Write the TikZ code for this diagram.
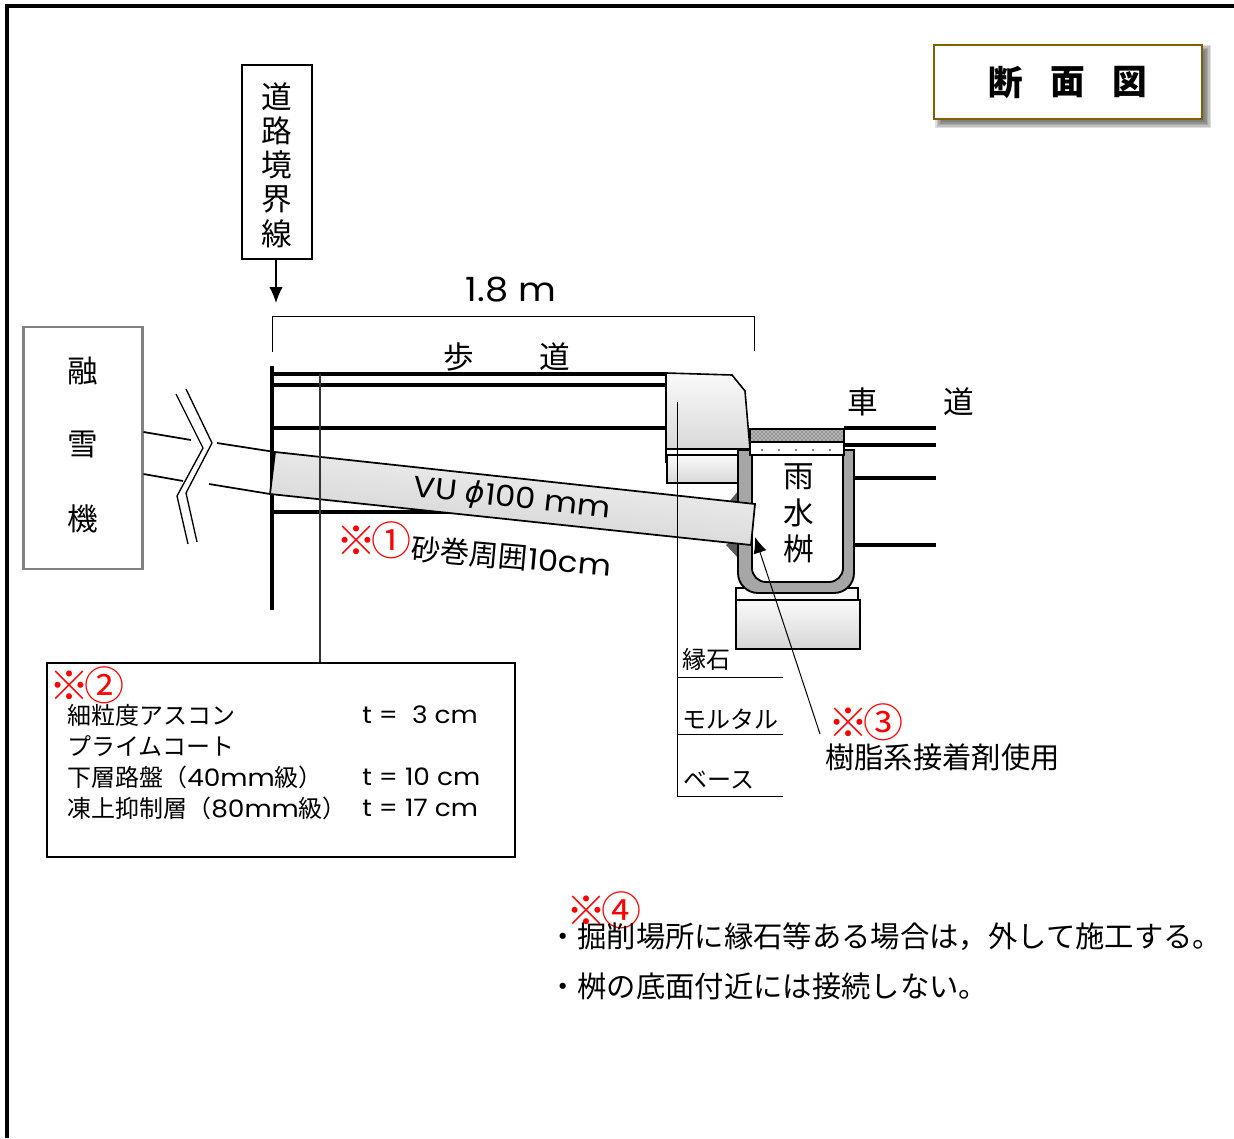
\documentclass[tikz,border=0pt]{standalone}
\usepackage{fontspec}
\setmainfont{Noto Sans CJK JP}
\newfontfamily\wide[FakeStretch=1.1]{Poppins}
\newfontfamily\greek{DejaVu Sans}
\usetikzlibrary{shadows,positioning,arrows.meta,calc,patterns}
\definecolor{framegold}{RGB}{127,96,0}
\newcommand{\redmarktext}[1]{{\bfseries ※}\kern-3.5pt #1}
\tikzset{
    txt/.style={inner sep=0pt,font=\fontsize{#1}{#1}\selectfont},
    widetxt/.style={inner sep=0pt,font=\wide\fontsize{#1}{#1}\selectfont},
    courseline/.style={line width=3pt},
    pipeline/.style={line width=1.3pt},
    redmark/.style={inner sep=0pt,text=red,font=\fontsize{30}{30}\selectfont},
    leader/.style={line width=0.75pt},
    blockbox/.style={draw=black,line width=1.2pt,top color=gray!4,bottom color=gray!32},
    tiparrow/.style={-{Latex[length=12pt,width=10pt]}}
}
\begin{document}
\begin{tikzpicture}[x=0.75pt,y=-0.75pt]
    \useasboundingbox (0,0) rectangle (1234,1138);
    % outer frame
    \draw[line width=2.4pt] (7,1138) -- (7,6) -- (1234,6);

    % title
    \foreach \e in {4,2.5,1,-0.5,-2}
        \fill[black,opacity=0.13] ({939-\e},{49-\e}) rectangle ({1207+\e},{124+\e});
    \node[draw=framegold,line width=1.7pt,fill=white,minimum width=201pt,minimum height=56pt,inner sep=0pt] (title) at (1068,82) {};
    \node[txt=26] (title1) at (1006,82) {\bfseries 断};
    \node[txt=26] (title2) at (1068,82) {\bfseries 面};
    \node[txt=26] (title3) at (1130,82) {\bfseries 図};

    % boundary label
    \node[draw,line width=1pt,minimum width=52.5pt,minimum height=145.5pt,inner sep=0pt] (boundary) at (277,162) {};
    \foreach \y/\t in {97/道,131/路,165/境,199/界,234/線}
        \node[txt=23] at (277,\y) {\t};
    \coordinate (boundarytip) at (276,303);
    \draw[line width=0.9pt,tiparrow] (boundary.south -| boundarytip) -- (boundarytip);

    % width dimension
    \node[widetxt=25] (width) at (511,290) {1.8 m};
    \draw[leader] (272,352) -- (272,316) -- (754,316) -- (754,351);

    % snow melter
    \node[draw=gray,line width=1.8pt,minimum width=89pt,minimum height=181.5pt,inner sep=0pt] (melter) at (83,448) {};
    \foreach \y/\t in {371/融,445/雪,519/機}
        \node[txt=23] at (83,\y) {\t};

    % road layers, sidewalk side
    \draw[line width=2.6pt] (272,366) -- (272,610);
    \foreach \y in {374,385,428,512}
        \draw[courseline] (272,\y) -- (668,\y);
    \node[txt=23] (walk1) at (459,357) {歩};
    \node[txt=23] (walk2) at (555,357) {道};

    % road layers, roadway side
    \foreach \y/\s in {428/844,445/844,478/855,545/855}
        \draw[courseline] (\s,\y) -- (936,\y);
    \node[txt=23] (road1) at (863,402) {車};
    \node[txt=23] (road2) at (959,402) {道};

    % curb and base
    \draw[line width=1.2pt,top color=gray!4,bottom color=gray!30]
        (666,373) -- (732,375) -- (745,391) -- (750,449) -- (666,449) -- cycle;
    \draw[line width=1.2pt,top color=gray!4,bottom color=gray!30] (667,455) rectangle (740,483);
    \draw[line width=1.4pt] (666,449) -- (666,463);
    \draw[line width=1.2pt] (666,455) -- (740,455);

    % adhesive behind the catch basin
    \fill[black!65] (739,490) -- (728,503) -- (739,510) -- cycle;
    \fill[black!65] (739,535) -- (726,545) -- (739,559) -- cycle;

    % foundation
    \draw[line width=1.2pt,fill=gray!5] (736,588) rectangle (858,600);
    \draw[blockbox] (736,600) rectangle (860,649);

    % catch basin
    \draw[line width=1.4pt,fill=black!35]
        (738,450) -- (854,450) -- (854,573) arc (0:90:20) -- (758,593) arc (90:180:20) -- cycle;
    \draw[line width=1.4pt,fill=white]
        (752,450) -- (843,450) -- (843,568) arc (0:90:14) -- (766,582) arc (90:180:14) -- cycle;

    % basin cover
    \draw[line width=1.6pt,fill=white] (750,429) rectangle (844,455);
    \fill[black!30] (751,430) rectangle (843,442);
    \fill[pattern=crosshatch dots,pattern color=black!75] (751,430) rectangle (843,442);
    \foreach \x in {762,779,796,813,830}
        \fill (\x,450) circle (0.9);
    \draw[line width=1.6pt] (750,442) -- (844,442);
    \node[txt=23] (basin1) at (799,477) {雨};
    \node[txt=23] (basin2) at (799,513) {水};
    \node[txt=23] (basin3) at (799,549) {桝};

    % pipe
    \draw[pipeline] (melter.east |- 0,432) -- (191,440);
    \draw[pipeline] (melter.east |- 0,474) -- (183,481);
    \draw[pipeline] (217,443) -- (275,452);
    \draw[pipeline] (209,484) -- (270,494);
    \draw[pipeline,top color=gray!8,bottom color=gray!38,shading angle=-6.4]
        (275,452) -- (755,504) -- (751,545) -- (270,494) -- cycle;
    \node[widetxt=22,rotate=-6.4] (pipelabel) at (512,499) {VU {\greek\itshape ϕ}100 mm};

    % break mark
    \draw[line width=1pt] (176,394) -- (203,448) -- (177,496) -- (188,544);
    \draw[line width=1pt] (186,389) -- (212,443) -- (186,493) -- (197,542);

    % leader lines
    \coordinate (curbtop) at (677,402);
    \coordinate (basetail) at (783,796);
    \draw[leader] (curbtop) -- (curbtop |- basetail) -- (basetail);
    \draw[leader] (677,677) -- (783,677);
    \draw[leader] (677,734) -- (783,734);
    \node[txt=18,anchor=west] (curb) at (682,659) {縁石};
    \node[txt=18,anchor=west] (mortar) at (682,719) {モルタル};
    \node[txt=18,anchor=west] (base) at (683,780) {ベース};
    \coordinate (adhesive) at (755,537);
    \coordinate (adhesivefoot) at (820,734);
    \draw[leader,tiparrow] (adhesivefoot) -- (adhesive);

    % notes
    \node[redmark] (mark1) at (374,540) {\redmarktext{①}};
    \node[txt=22,rotate=-5,anchor=west] (sand) at (411,548) {砂巻周囲{\wide 10cm}};
    \node[redmark] (mark3) at (866,722) {\redmarktext{③}};
    \node[txt=22,anchor=west] (resin) at (825,757) {樹脂系接着剤使用};

    % pavement table
    \node[draw,fill=white,line width=1.2pt,minimum width=351pt,minimum height=145.5pt,inner sep=0pt] (pavement) at (281,760) {};
    \coordinate (layertop) at (320,374);
    \draw[line width=0.9pt,draw=black!80] (layertop) -- (layertop |- pavement.north);
    \node[redmark] (mark2) at (87,685) {\redmarktext{②}};
    \foreach \y/\a/\b in {715/細粒度アスコン/t =\ \ 3 cm,746/プライムコート/,777/下層路盤（{\wide 40mm}級）/t = 10 cm,808/凍上抑制層（{\wide 80mm}級）/t = 17 cm}{
        \node[txt=18,anchor=west] at (67,\y) {\a};
        \node[widetxt=18,anchor=west] at (362,\y) {\b};
    }

    % remarks
    \node[redmark] (mark4) at (604,910) {\redmarktext{④}};
    \node[txt=22,anchor=west] (note1) at (548,937) {・掘削場所に縁石等ある場合は，外して施工する。};
    \node[txt=22,anchor=west] (note2) at (548,986) {・桝の底面付近には接続しない。};
\end{tikzpicture}
\end{document}
